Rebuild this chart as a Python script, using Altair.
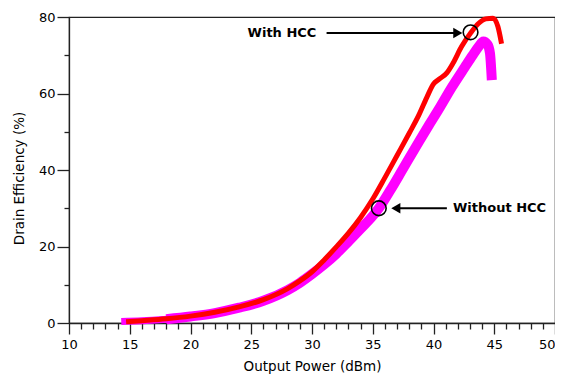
import altair as alt
import pandas as pd

# With HCC (red)
red_x = [14.7, 16, 18, 20, 22, 24, 26, 28, 29, 30, 31, 32, 33, 34, 35, 36, 37, 38, 38.8,
         39.45, 40.0, 40.4, 41.1, 41.6, 42.3, 43.1, 43.7, 44.3, 44.9, 45.3, 45.6]
red_y = [0.3, 0.6, 1.1, 1.8, 2.8, 4.2, 6.1, 9.0, 11.0, 13.4, 16.5, 19.9, 23.5, 27.6, 32.4,
         38.0, 43.8, 49.6, 54.4, 59.0, 62.5, 63.6, 65.4, 67.9, 72.2, 76.0, 78.3, 79.5, 79.7,
         77.5, 73.0]

# Without HCC (magenta), thin low-power start and thick main trace
mag_thin_x = [14.3, 16, 18.1]
mag_thin_y = [0.4, 0.6, 1.0]
mag_x = [18, 20, 22, 24, 26, 28, 29, 30, 31, 32, 33, 34, 35, 35.5, 36.5, 37.5, 38.8, 39.6,
         40.4, 41.5, 42.6, 43.2, 43.7, 44.1, 44.45, 44.65, 44.8]
mag_y = [1.0, 1.7, 2.6, 4.0, 5.8, 8.6, 10.5, 12.8, 15.3, 18.1, 21.3, 24.6, 28.0, 30.0, 35.0,
         40.4, 47.4, 51.6, 55.7, 61.6, 67.0, 69.9, 72.2, 73.6, 72.8, 70.5, 63.5]

# Annotations
ann_labels = ["With HCC", "Without HCC"]
ann_text_x = [24.7, 41.6]
ann_y = [75.8, 30.0]
arrow_from_x = [31.2, 41.1]
arrow_to_x = [42.0, 36.9]
arrow_shape = ["triangle-right", "triangle-left"]
circle_x = [43.05, 35.5]
circle_y = [76.0, 30.0]

df_red = pd.DataFrame({"x": red_x, "y": red_y, "i": range(len(red_x))})
df_mt = pd.DataFrame({"x": mag_thin_x, "y": mag_thin_y, "i": range(len(mag_thin_x))})
df_m = pd.DataFrame({"x": mag_x, "y": mag_y, "i": range(len(mag_x))})
df_ann = pd.DataFrame({"label": ann_labels, "tx": ann_text_x, "y": ann_y,
                       "x": arrow_from_x, "x2": arrow_to_x, "shape": arrow_shape,
                       "cx": circle_x, "cy": circle_y})

x_axis = alt.Axis(
    values=list(range(10, 51)),
    labelExpr="datum.value % 5 === 0 ? datum.label : ''",
    labelOverlap=False, labelFlush=False,
    labelAlign={"condition": {"test": "datum.value === 50", "value": "right"}, "value": "center"},
    tickSize={"condition": {"test": "datum.value % 5 === 0", "value": 11}, "value": 6},
    title="Output Power (dBm)", titleY=43, titleBaseline="middle",
    labelPadding=4, grid=False,
)
y_axis = alt.Axis(
    values=list(range(0, 81, 10)),
    labelExpr="datum.value % 20 === 0 ? datum.label : ''",
    labelOverlap=False, labelFlush=False,
    tickSize={"condition": {"test": "datum.value % 20 === 0", "value": 12}, "value": 5},
    title="Drain Efficiency (%)", titleX=-50, titleY=161, titleAngle=-90,
    titleAlign="center", titleBaseline="middle",
    labelPadding=2, grid=False,
)
xs = alt.Scale(domain=[10, 50], nice=False, zero=False)
ys = alt.Scale(domain=[0, 80], nice=False)

def X(field="x"):
    return alt.X(f"{field}:Q", scale=xs, axis=x_axis)

def Y(field="y"):
    return alt.Y(f"{field}:Q", scale=ys, axis=y_axis)

mag_thin = alt.Chart(df_mt).mark_line(color="#FF00FF", strokeWidth=7, interpolate="monotone").encode(
    x=X(), y=Y(), order="i:Q")
mag = alt.Chart(df_m).mark_line(color="#FF00FF", strokeWidth=10, interpolate="monotone").encode(
    x=X(), y=Y(), order="i:Q")
red = alt.Chart(df_red).mark_line(color="#FF0000", strokeWidth=5, interpolate="monotone").encode(
    x=X(), y=Y(), order="i:Q")

arrows = alt.Chart(df_ann).mark_rule(color="black", strokeWidth=2).encode(
    x=X(), x2="x2:Q", y=Y())
heads = alt.Chart(df_ann).mark_point(filled=True, color="black", size=110, opacity=1).encode(
    x=X("x2"), y=Y(), shape=alt.Shape("shape:N", scale=None))
circles = alt.Chart(df_ann).mark_point(shape="circle", filled=False, color="black",
                                       strokeWidth=1.6, size=215, opacity=1).encode(
    x=X("cx"), y=Y("cy"))
texts = alt.Chart(df_ann).mark_text(align="left", baseline="middle", fontSize=13,
                                    fontWeight="bold", font="DejaVu Sans", color="black").encode(
    x=X("tx"), y=Y(), text="label:N")

chart = alt.layer(mag_thin, mag, red, arrows, heads, circles, texts).properties(
    width=486, height=306,
    autosize=alt.AutoSizeParams(type="none"),
    padding={"left": 61, "top": 9, "right": 0, "bottom": 51},
    background="white",
).configure_view(
    stroke="#222222", strokeWidth=1.2
).configure_axis(
    domainColor="#222222", domainWidth=1.3, tickColor="#222222", tickWidth=1.3,
    labelFont="DejaVu Sans", labelFontSize=13, labelColor="black",
    titleFont="DejaVu Sans", titleFontSize=13.5, titleFontWeight="normal", titleColor="black",
)

chart.save("out.html", embed_options={"renderer": "svg", "actions": False})
